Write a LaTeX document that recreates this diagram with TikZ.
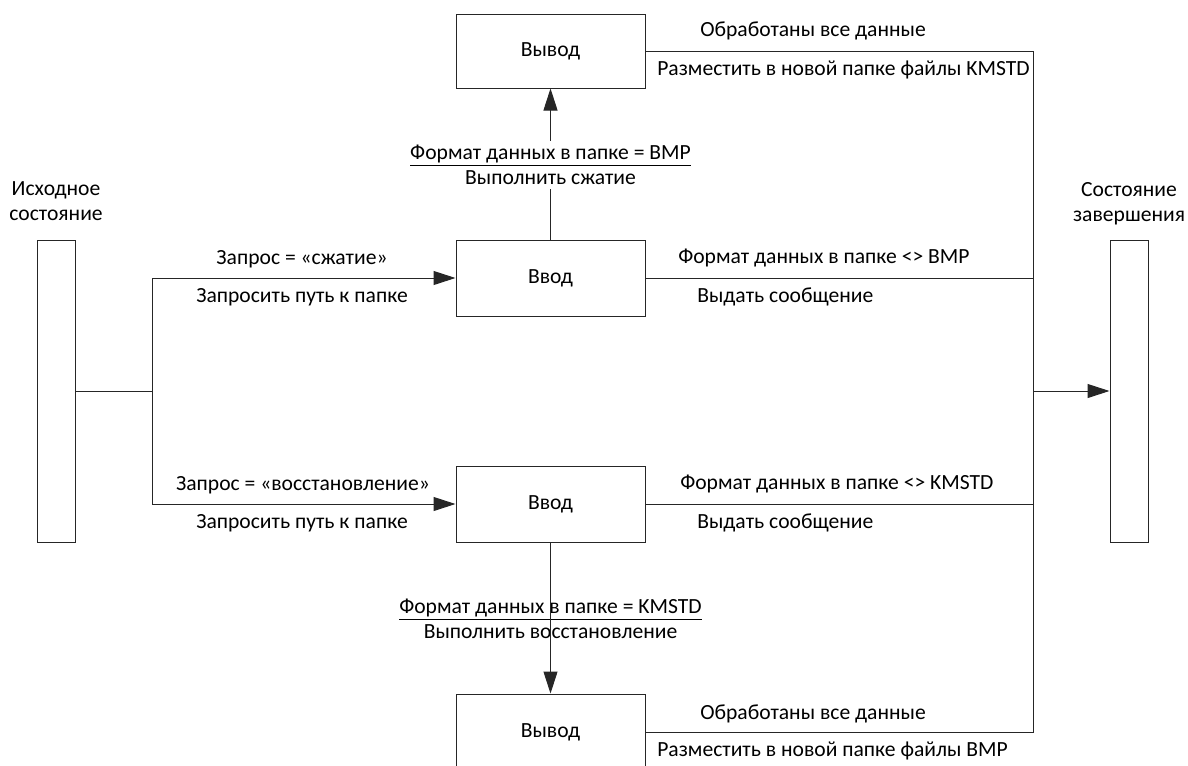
\documentclass[tikz,border=0pt]{standalone}
\usepackage{fontspec}
\setmainfont{Carlito}
\usetikzlibrary{arrows.meta}
\begin{document}
\begin{tikzpicture}[x=0.75pt,y=-0.75pt,
  every node/.style={font=\fontsize{16.2}{18.75}\selectfont},
  line/.style={draw=black!85,line width=0.75pt},
  box/.style={line,minimum width=141.75pt,minimum height=57pt,inner sep=0pt},
  bar/.style={line,minimum width=28.5pt,minimum height=226.5pt,inner sep=0pt},
  cond/.style={align=center,inner sep=3pt},
  lbl/.style={inner sep=0pt},
  arr/.style={line,-{Triangle[length=16.5pt,width=10.5pt]}}]
\useasboundingbox (0,0) rectangle (1188,765);
\clip (0,0) rectangle (1188,765);

% states
\node[bar] (start) at (56,391) {};
\node[bar] (finish) at (1129,391) {};
\node[align=center] (startlbl) at (56,201) {Исходное\\состояние};
\node[align=center] (finishlbl) at (1129,204) {Состояние\\завершения};

% activity boxes
\node[box,minimum height=55.5pt] (out1) at (550.5,51) {Вывод};
\node[box] (in1) at (550.5,278) {Ввод};
\node[box] (in2) at (550.5,504) {Ввод};
\node[box] (out2) at (550.5,732) {Вывод};

\coordinate (fork) at (152,391);
\coordinate (join) at (1033,391);

% branching from the initial state
\draw[line] (start.east) -- (fork);
\draw[arr] (fork) |- (in1.west);
\draw[arr] (fork) |- (in2.west);

% merging into the final state
\draw[line] (out1.east) -| (join);
\draw[line] (out2.east) -| (join);
\draw[line] (in1.east) -- (in1.east -| join);
\draw[line] (in2.east) -- (in2.east -| join);
\draw[arr] (join) -- (finish.west);

% vertical transitions with their conditions
\node[cond] (c1) at (550.5,165) {\underline{Формат данных в папке = BMP}\\Выполнить сжатие};
\draw[line] (in1.north) -- (c1.south);
\draw[arr] (c1.north) -- (out1.south);

\node[cond] (c2) at (550.5,619) {\underline{Формат данных в папке = KMSTD}\\Выполнить восстановление};
\draw[line] (in2.south) -- (c2.south);
\draw[arr] (c2.north) -- (out2.north);

% transition labels
\node[lbl] (l1) at (302,259) {Запрос = «сжатие»};
\node[lbl] (l2) at (302,297) {Запросить путь к папке};
\node[lbl] (l3) at (303,485) {Запрос = «восстановление»};
\node[lbl] (l4) at (302,523) {Запросить путь к папке};
\node[lbl,anchor=west] (l5) at (678,258) {Формат данных в папке <> BMP};
\node[lbl,anchor=west] (l6) at (697,297) {Выдать сообщение};
\node[lbl,anchor=west] (l7) at (680,484) {Формат данных в папке <> KMSTD};
\node[lbl,anchor=west] (l8) at (697,523) {Выдать сообщение};
\node[lbl,anchor=west] (l9) at (700,31) {Обработаны все данные};
\node[lbl,anchor=west] (l10) at (657,70) {Разместить в новой папке файлы KMSTD};
\node[lbl,anchor=west] (l11) at (700,714) {Обработаны все данные};
\node[lbl,anchor=west] (l12) at (657,751) {Разместить в новой папке файлы BMP};
\end{tikzpicture}
\end{document}
